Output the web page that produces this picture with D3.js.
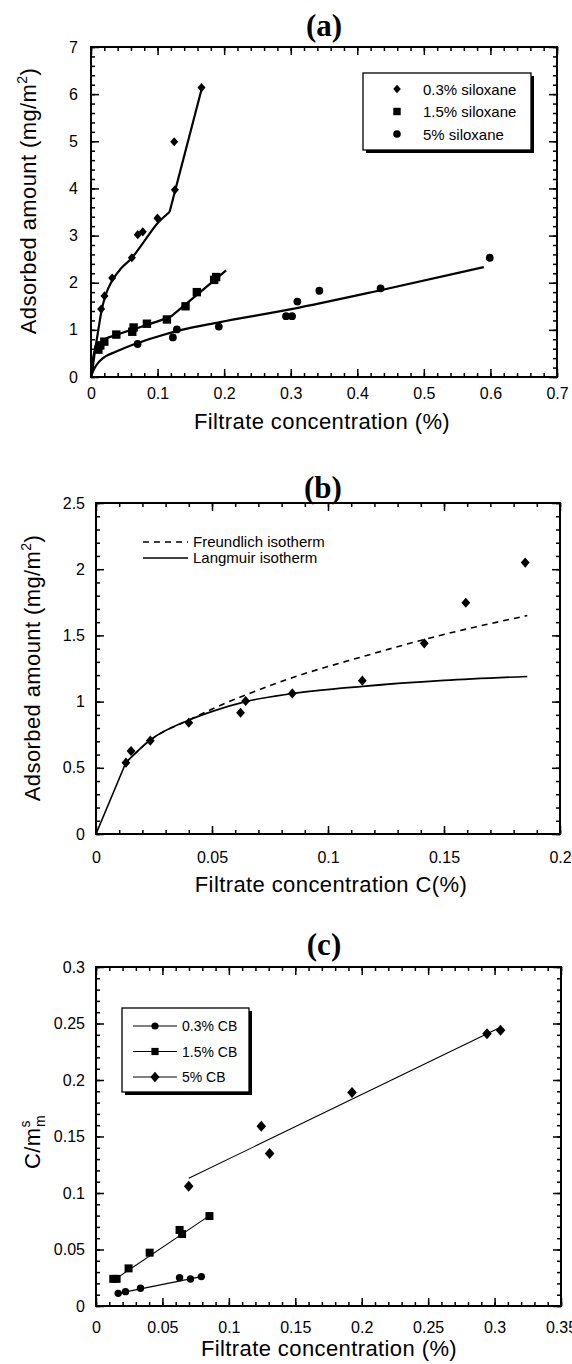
<!DOCTYPE html>
<meta charset="utf-8">
<style>
body { margin: 0; background: #fff; }
svg text { font-family: "Liberation Sans", Arial, Helvetica, sans-serif; fill: #000; }
.frame { fill: none; stroke: #000; stroke-width: 2px; }
.tick line { stroke: #000; stroke-width: 1.5px; }
.ptitle { font-family: "Liberation Serif", "Times New Roman", serif !important; font-weight: bold; font-size: 31px; }
.atitle { font-size: 22px; letter-spacing: 0.4px; }
.leg { font-size: 15px; }
</style>
<svg width="572" height="1364"></svg>
<script src="https://cdn.jsdelivr.net/npm/d3@7"></script>
<script>
// ---- panel (a): adsorbed amount vs filtrate concentration
var sil03 = [[0.0153,1.44],[0.0203,1.72],[0.0318,2.10],[0.0614,2.53],[0.0702,3.02],[0.0778,3.08],
             [0.0998,3.37],[0.126,3.97],[0.125,4.99],[0.166,6.14]];
var sil15 = [[0.011,0.58],[0.014,0.67],[0.020,0.75],[0.038,0.90],[0.062,0.96],[0.064,1.05],[0.084,1.13],
             [0.114,1.22],[0.142,1.50],[0.159,1.80],[0.185,2.06],[0.188,2.12]];
var sil5  = [[0.070,0.70],[0.123,0.84],[0.129,1.01],[0.192,1.07],[0.293,1.29],[0.302,1.29],[0.310,1.60],
             [0.343,1.83],[0.435,1.88],[0.599,2.53]];
var fit03 = [[0,0],[0.003,0.25],[0.006,0.55],[0.011,1.0],[0.016,1.42],[0.022,1.74],[0.032,2.05],[0.045,2.3],
             [0.061,2.52],[0.078,2.84],[0.1,3.26],[0.118,3.5],[0.167,6.15]];
var fit15 = [[0,0],[0.0035,0.43],[0.007,0.62],[0.016,0.76],[0.038,0.89],[0.068,1.03],[0.098,1.17],
             [0.12,1.28],[0.203,2.26]];
var fit5  = [[0,0],[0.003,0.12],[0.008,0.25],[0.018,0.4],[0.038,0.54],[0.068,0.71],[0.098,0.85],
             [0.133,0.99],[0.192,1.16],[0.301,1.44],[0.435,1.84],[0.59,2.33]];
var aLegend = ["0.3% siloxane", "1.5% siloxane", "5% siloxane"];
var aXTicks = [0,0.1,0.2,0.3,0.4,0.5,0.6,0.7];
var aYTicks = [0,1,2,3,4,5,6,7];

// ---- panel (b): isotherm fits
var bPoints = [[0.0129,0.539],[0.0151,0.627],[0.0234,0.705],[0.040,0.841],[0.0623,0.916],[0.0645,1.005],
               [0.0846,1.062],[0.1148,1.158],[0.1415,1.440],[0.1594,1.747],[0.185,2.05]];
var freundlich = [[0.0129,0.54],[0.0234,0.71],[0.04,0.86],[0.0508,0.95],[0.0645,1.05],[0.0845,1.18],
                  [0.115,1.34],[0.1416,1.47],[0.1859,1.65]];
var langmuir = [[0,0],[0.0129,0.54],[0.0234,0.71],[0.04,0.86],[0.0508,0.93],[0.0645,1.0],[0.0845,1.06],
                [0.115,1.115],[0.15,1.16],[0.1859,1.19]];
var bLegend = ["Freundlich isotherm", "Langmuir isotherm"];
var bXTicks = [0,0.05,0.1,0.15,0.2];
var bYTicks = [0,0.5,1,1.5,2,2.5];

// ---- panel (c): C/m vs C
var cb03 = [[0.0167,0.0112],[0.0222,0.0127],[0.0335,0.0157],[0.0629,0.0251],[0.0711,0.0239],[0.0793,0.026]];
var cb15 = [[0.013,0.024],[0.0155,0.024],[0.0245,0.0333],[0.0404,0.0472],[0.0629,0.0673],[0.0648,0.0637],[0.0854,0.0796]];
var cb5  = [[0.0698,0.106],[0.1244,0.159],[0.1307,0.135],[0.1927,0.189],[0.2943,0.241],[0.3045,0.244]];
var cbFit03 = [[0.0167,0.0112],[0.0793,0.026]];
var cbFit15 = [[0.0148,0.024],[0.0854,0.080]];
var cbFit5  = [[0.0698,0.113],[0.3045,0.2466]];
var cLegend = ["0.3% CB", "1.5% CB", "5% CB"];
var cXTicks = [0,0.05,0.1,0.15,0.2,0.25,0.3,0.35];
var cYTicks = [0,0.05,0.1,0.15,0.2,0.25,0.3];

var svg = d3.select("svg");
var fmt = d3.format("~g");

function diamond(w, h) { return "M0," + (-h) + "L" + w + ",0L0," + h + "L" + (-w) + ",0Z"; }

function drawMarker(g, kind, s) {
  if (kind == "circle") g.append("circle").attr("r", s);
  else if (kind == "square") g.append("rect").attr("x", -s).attr("y", -s).attr("width", 2*s).attr("height", 2*s);
  else g.append("path").attr("d", diamond(s, s*1.15));
}

function points(g, x, y, data, kind, s) {
  data.forEach(function(d) {
    var m = g.append("g").attr("transform", "translate(" + x(d[0]) + "," + y(d[1]) + ")").attr("fill", "#000");
    drawMarker(m, kind, s);
  });
}

function frame(p) {
  var g = svg.append("g");
  var x = p.x, y = p.y;
  var B = y.range()[0], T = y.range()[1], L = x.range()[0], R = x.range()[1];
  function clean(sel) { sel.select(".domain").remove(); sel.attr("font-size", null).attr("font-family", null); }
  // minor ticks
  g.append("g").attr("transform", "translate(0," + B + ")").call(d3.axisBottom(x).tickValues(p.xMinor).tickSize(-4).tickFormat("")).call(clean);
  g.append("g").attr("transform", "translate(0," + T + ")").call(d3.axisTop(x).tickValues(p.xMinor).tickSize(-4).tickFormat("")).call(clean);
  g.append("g").attr("transform", "translate(" + L + ",0)").call(d3.axisLeft(y).tickValues(p.yMinor).tickSize(-4).tickFormat("")).call(clean);
  g.append("g").attr("transform", "translate(" + R + ",0)").call(d3.axisRight(y).tickValues(p.yMinor).tickSize(-4).tickFormat("")).call(clean);
  // major ticks
  var xb = g.append("g").attr("transform", "translate(0," + B + ")")
    .call(d3.axisBottom(x).tickValues(p.xTicks).tickSize(-8).tickPadding(p.xPad).tickFormat(fmt)).call(clean);
  g.append("g").attr("transform", "translate(0," + T + ")").call(d3.axisTop(x).tickValues(p.xTicks).tickSize(-8).tickFormat("")).call(clean);
  var yl = g.append("g").attr("transform", "translate(" + L + ",0)")
    .call(d3.axisLeft(y).tickValues(p.yTicks).tickSize(-8).tickPadding(p.yPad).tickFormat(fmt)).call(clean);
  g.append("g").attr("transform", "translate(" + R + ",0)").call(d3.axisRight(y).tickValues(p.yTicks).tickSize(-8).tickFormat("")).call(clean);
  xb.selectAll("text").style("font-size", "16px");
  yl.selectAll("text").style("font-size", "16px");
  g.append("rect").attr("class", "frame").attr("x", L).attr("y", T).attr("width", R - L).attr("height", B - T);
  return g;
}

function path(g, x, y, data, curve) {
  return g.append("path").datum(data).attr("fill", "none").attr("stroke", "#000")
    .attr("d", d3.line().x(function(d) { return x(d[0]); }).y(function(d) { return y(d[1]); }).curve(curve || d3.curveLinear));
}

// smooth fit, with straight first and/or last segment where the original has a kink
function fitPath(g, x, y, data, linHead, linTail, w, dash) {
  var a = linHead ? 1 : 0, b = linTail ? data.length - 1 : data.length;
  var parts = [path(g, x, y, data.slice(a, b), d3.curveMonotoneX)];
  if (linHead) parts.push(path(g, x, y, data.slice(0, 2)));
  if (linTail) parts.push(path(g, x, y, data.slice(-2)));
  parts.forEach(function(p) { p.attr("stroke-width", w).attr("stroke-dasharray", dash || null); });
}

function shadowBox(x0, y0, w, h) {
  svg.append("rect").attr("x", x0 + 3).attr("y", y0 + 3).attr("width", w).attr("height", h).attr("fill", "#000");
  svg.append("rect").attr("x", x0).attr("y", y0).attr("width", w).attr("height", h).attr("fill", "#fff").attr("stroke", "#000").attr("stroke-width", 1.3);
}

// ================= (a)
var ax = d3.scaleLinear().domain([0, 0.7]).range([91, 557]);
var ay = d3.scaleLinear().domain([0, 7]).range([377, 47]);
var ga = svg.append("g");
fitPath(ga, ax, ay, fit03, false, true, 2.2);
fitPath(ga, ax, ay, fit15, false, true, 2.2);
fitPath(ga, ax, ay, fit5, false, false, 2.2);
points(ga, ax, ay, sil03, "diamond", 4);
points(ga, ax, ay, sil15, "square", 4.2);
points(ga, ax, ay, sil5, "circle", 3.9);
frame({x: ax, y: ay, xTicks: aXTicks, yTicks: aYTicks,
       xMinor: d3.range(0, 36).map(function(i) { return i * 0.02; }),
       yMinor: d3.range(0, 36).map(function(i) { return i * 0.2; }), xPad: 11, yPad: 13});
svg.append("text").attr("class", "ptitle").attr("x", 324).attr("y", 36).attr("text-anchor", "middle").text("(a)");
svg.append("text").attr("class", "atitle").attr("x", 322).attr("y", 429).attr("text-anchor", "middle").text("Filtrate concentration (%)");
var ta = svg.append("text").attr("class", "atitle").attr("text-anchor", "middle").attr("transform", "translate(36,201) rotate(-90)");
ta.append("tspan").text("Adsorbed amount (mg/m");
ta.append("tspan").attr("font-size", 14).attr("dy", -9).text("2");
ta.append("tspan").attr("dy", 9).text(")");
shadowBox(363, 73, 168, 77);
["diamond", "square", "circle"].forEach(function(k, i) {
  var yy = 89 + i * 22.5;
  var m = svg.append("g").attr("transform", "translate(397," + yy + ")").attr("fill", "#000");
  drawMarker(m, k, k == "circle" ? 3.8 : (k == "square" ? 3.7 : 3.8));
  svg.append("text").attr("class", "leg").attr("x", 423).attr("y", yy + 5.5).text(aLegend[i]);
});

// ================= (b)
var bx = d3.scaleLinear().domain([0, 0.2]).range([96, 560]);
var by = d3.scaleLinear().domain([0, 2.5]).range([834, 503]);
var gb = svg.append("g");
fitPath(gb, bx, by, freundlich, false, false, 1.6, "6,5");
fitPath(gb, bx, by, langmuir, true, false, 1.6);
points(gb, bx, by, bPoints, "diamond", 4.4);
frame({x: bx, y: by, xTicks: bXTicks, yTicks: bYTicks,
       xMinor: d3.range(0, 21).map(function(i) { return i * 0.01; }),
       yMinor: d3.range(0, 26).map(function(i) { return i * 0.1; }), xPad: 18, yPad: 11});
svg.append("text").attr("class", "ptitle").attr("x", 323).attr("y", 498).attr("text-anchor", "middle").text("(b)");
svg.append("text").attr("class", "atitle").attr("x", 331).attr("y", 892).attr("text-anchor", "middle").text("Filtrate concentration C(%)");
var tb = svg.append("text").attr("class", "atitle").attr("text-anchor", "middle").attr("transform", "translate(40,668) rotate(-90)");
tb.append("tspan").text("Adsorbed amount (mg/m");
tb.append("tspan").attr("font-size", 14).attr("dy", -9).text("2");
tb.append("tspan").attr("dy", 9).text(")");
["6,5", null].forEach(function(dash, i) {
  var yy = 542 + i * 16;
  svg.append("line").attr("x1", 143).attr("x2", 188).attr("y1", yy).attr("y2", yy)
    .attr("stroke", "#000").attr("stroke-width", 1.4).attr("stroke-dasharray", dash);
  svg.append("text").attr("class", "leg").attr("x", 193).attr("y", yy + 5).text(bLegend[i]);
});

// ================= (c)
var cx = d3.scaleLinear().domain([0, 0.35]).range([96, 561]);
var cy = d3.scaleLinear().domain([0, 0.3]).range([1306, 967]);
var gc = svg.append("g");
[cbFit03, cbFit15, cbFit5].forEach(function(f) { path(gc, cx, cy, f).attr("stroke-width", 1.1); });
points(gc, cx, cy, cb03, "circle", 3.7);
points(gc, cx, cy, cb15, "square", 4);
points(gc, cx, cy, cb5, "diamond", 4.8);
frame({x: cx, y: cy, xTicks: cXTicks, yTicks: cYTicks,
       xMinor: d3.range(0, 36).map(function(i) { return i * 0.01; }),
       yMinor: d3.range(0, 31).map(function(i) { return i * 0.01; }), xPad: 16, yPad: 11});
svg.append("text").attr("class", "ptitle").attr("x", 324).attr("y", 955).attr("text-anchor", "middle").text("(c)");
svg.append("text").attr("class", "atitle").attr("x", 329).attr("y", 1356).attr("text-anchor", "middle").text("Filtrate concentration (%)");
var tc = svg.append("text").attr("class", "atitle").attr("transform", "translate(40,1142) rotate(-90)").attr("text-anchor", "middle");
tc.append("tspan").text("C/m");
tc.append("tspan").attr("font-size", 14).attr("dy", -10).text("s");
tc.append("tspan").attr("font-size", 14).attr("dx", -7).attr("dy", 15).text("m");
shadowBox(122, 1008, 127, 84);
["circle", "square", "diamond"].forEach(function(k, i) {
  var yy = 1026 + i * 25.5;
  svg.append("line").attr("x1", 133).attr("x2", 177).attr("y1", yy).attr("y2", yy).attr("stroke", "#000").attr("stroke-width", 1);
  var m = svg.append("g").attr("transform", "translate(155," + yy + ")").attr("fill", "#000");
  drawMarker(m, k, k == "diamond" ? 4.6 : 3.6);
  svg.append("text").attr("class", "leg").style("font-size", "14px").attr("x", 182).attr("y", yy + 5).text(cLegend[i]);
});
</script>
